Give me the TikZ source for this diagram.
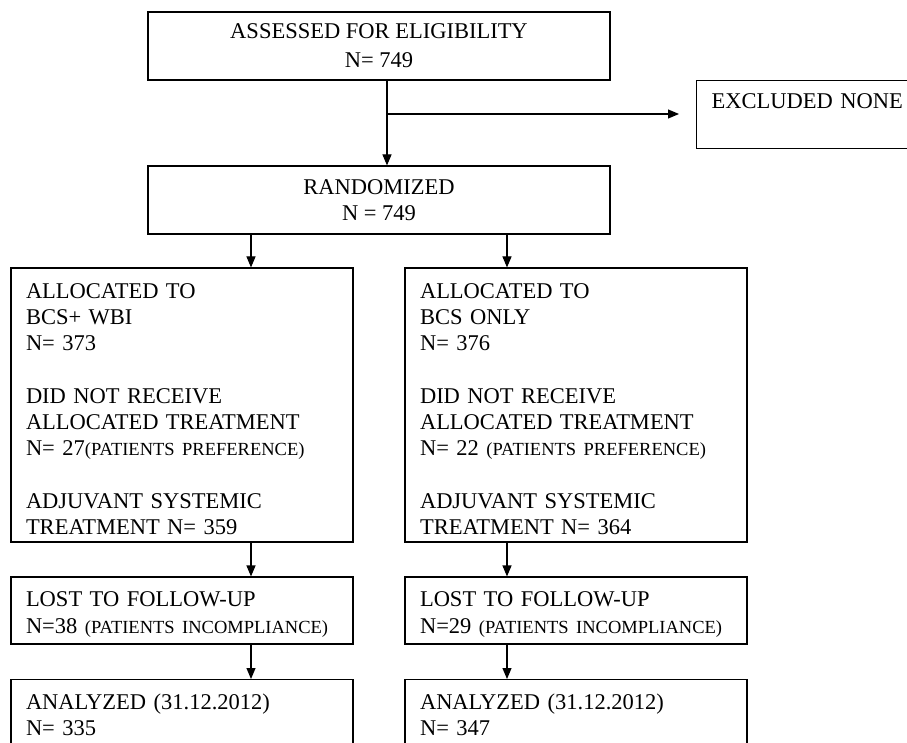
\documentclass[tikz,border=0pt]{standalone}
\usepackage{fontspec}
\setmainfont{Liberation Serif}
\usepackage{tikz}
\usetikzlibrary{
    arrows.meta,
    calc,
    positioning
}
\newcommand{\sml}[1]{{\fontsize{18.5}{22}\selectfont #1}}
\newcommand{\topstrut}{\rule{0pt}{23pt}}
\tikzset{
    every node/.style={font=\fontsize{22.5}{26.3}\selectfont},
    box/.style={draw, line width=1.1pt, align=center, inner sep=0pt},
    colbox/.style={draw, line width=1.1pt, align=left, inner xsep=15pt, inner ysep=0pt, text width=312pt},
    arr/.style={line width=1.1pt, -{Triangle[length=11pt, width=9pt]}}
}

\begin{document}
\begin{tikzpicture}[x=1pt, y=-1pt]
    \clip (0, 0) rectangle (907, 743);
    \node[box, minimum width=462pt, minimum height=68pt] (assessed) at (379, 46) {ASSESSED FOR ELIGIBILITY\\[2.5pt]N= 749};
    \node[colbox, text width=230pt, minimum height=68pt, anchor=north west] (excluded) at (696, 80) {EXCLUDED NONE\\\mbox{}};
    \node[box, minimum width=462pt, minimum height=68pt] (randomized) at (379, 200) {RANDOMIZED\\N = 749};
    \node[colbox, minimum height=274pt] (allocA) at (182, 405) {\topstrut ALLOCATED TO\\BCS+ WBI\\N= 373\\[26.3pt]DID NOT RECEIVE\\ALLOCATED TREATMENT\\N= 27\sml{(PATIENTS PREFERENCE)}\\[26.3pt]ADJUVANT SYSTEMIC\\TREATMENT N= 359};
    \node[colbox, minimum height=274pt] (allocB) at (576, 405) {\topstrut ALLOCATED TO\\BCS ONLY\\N= 376\\[26.3pt]DID NOT RECEIVE\\ALLOCATED TREATMENT\\N= 22 \sml{(PATIENTS PREFERENCE)}\\[26.3pt]ADJUVANT SYSTEMIC\\TREATMENT N= 364};
    \node[colbox, minimum height=67pt] (lostA) at (182, 610.5) {\topstrut LOST TO FOLLOW-UP\\N=38 \sml{(PATIENTS INCOMPLIANCE)}};
    \node[colbox, minimum height=67pt] (lostB) at (576, 610.5) {\topstrut LOST TO FOLLOW-UP\\N=29 \sml{(PATIENTS INCOMPLIANCE)}};
    \node[colbox, minimum height=71pt, anchor=north] (analyzedA) at (182, 679) {ANALYZED (31.12.2012)\\N= 335};
    \node[colbox, minimum height=71pt, anchor=north] (analyzedB) at (576, 679) {ANALYZED (31.12.2012)\\N= 347};
    \coordinate (split) at ($(assessed.south)!0.5!(randomized.north) + (8, -9)$);
    \coordinate (exclend) at ([xshift=-17pt]excluded.west |- split);
    \draw[arr] ([xshift=8pt]assessed.south) -- ([xshift=8pt]randomized.north);
    \draw[arr] (split) -- (exclend);
    \draw[arr] ([xshift=69pt]allocA.north |- randomized.south) -- ([xshift=69pt]allocA.north);
    \draw[arr] ([xshift=-69pt]allocB.north |- randomized.south) -- ([xshift=-69pt]allocB.north);
    \draw[arr] ([xshift=69pt]allocA.south) -- ([xshift=69pt]lostA.north);
    \draw[arr] ([xshift=-69pt]allocB.south) -- ([xshift=-69pt]lostB.north);
    \draw[arr] ([xshift=69pt]lostA.south) -- ([xshift=69pt]analyzedA.north);
    \draw[arr] ([xshift=-69pt]lostB.south) -- ([xshift=-69pt]analyzedB.north);
\end{tikzpicture}
\end{document}
